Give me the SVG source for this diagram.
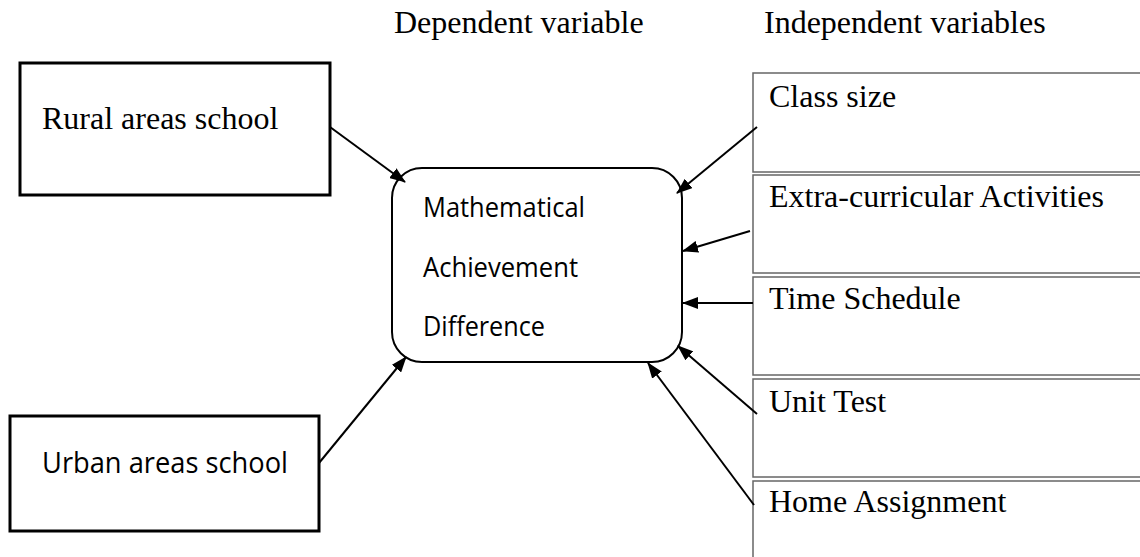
<svg xmlns="http://www.w3.org/2000/svg" width="1140" height="557" viewBox="0 0 1140 557">
<style>
.serif{font-family:"Liberation Serif","Times New Roman",serif;fill:#000}
.sans{font-family:"Open Sans","Noto Sans","Liberation Sans",sans-serif;fill:#000}
.thick{fill:#fff;stroke:#000;stroke-width:3}
.var{fill:#fff;stroke:#666;stroke-width:1.5}
.conn{stroke:#000;stroke-width:2;fill:none;marker-end:url(#ah)}
</style>
<defs>
<marker id="ah" markerWidth="16" markerHeight="12" refX="15" refY="6" orient="auto" markerUnits="userSpaceOnUse">
<path d="M0,0 L16,6 L0,12 Z" fill="#000"/>
</marker>
</defs>
<rect width="1140" height="557" fill="#fff"/>
<g id="headers">
<text class="serif" x="394" y="33" font-size="32">Dependent variable</text>
<text class="serif" x="764" y="33" font-size="32">Independent variables</text>
</g>
<g id="rural">
<rect class="thick" x="20" y="63" width="310" height="132"/>
<text class="serif" x="42" y="129" font-size="32">Rural areas school</text>
</g>
<g id="urban">
<rect class="thick" x="10" y="416" width="309" height="115"/>
<text class="sans" x="42" y="473" font-size="29" textLength="246" lengthAdjust="spacingAndGlyphs">Urban areas school</text>
</g>
<g id="outcome">
<rect x="392" y="168" width="290" height="194" rx="30" ry="30" fill="#fff" stroke="#000" stroke-width="2"/>
<text class="sans" x="423" y="217" font-size="27" textLength="162" lengthAdjust="spacingAndGlyphs">Mathematical</text>
<text class="sans" x="423" y="277" font-size="27" textLength="155" lengthAdjust="spacingAndGlyphs">Achievement</text>
<text class="sans" x="423" y="336" font-size="27" textLength="122" lengthAdjust="spacingAndGlyphs">Difference</text>
</g>
<g id="class-size">
<rect class="var" x="753" y="73" width="390" height="99"/>
<text class="serif" x="769" y="107" font-size="32">Class size</text>
</g>
<g id="extra">
<rect class="var" x="753" y="175" width="390" height="98"/>
<text class="serif" x="769" y="207" font-size="32">Extra-curricular Activities</text>
</g>
<g id="time">
<rect class="var" x="753" y="277" width="390" height="98"/>
<text class="serif" x="769" y="309" font-size="32">Time Schedule</text>
</g>
<g id="unit">
<rect class="var" x="753" y="379" width="390" height="98"/>
<text class="serif" x="769" y="412" font-size="32">Unit Test</text>
</g>
<g id="home">
<rect class="var" x="753" y="481" width="390" height="100"/>
<text class="serif" x="769" y="512" font-size="32">Home Assignment</text>
</g>
<g id="connectors">
<line class="conn" x1="330" y1="127" x2="405" y2="182"/>
<line class="conn" x1="319" y1="463" x2="406" y2="357"/>
<line class="conn" x1="757" y1="127" x2="677" y2="193"/>
<line class="conn" x1="750" y1="231" x2="683" y2="251"/>
<line class="conn" x1="753" y1="303" x2="683" y2="303"/>
<line class="conn" x1="757" y1="414" x2="678" y2="346"/>
<line class="conn" x1="754" y1="505" x2="648" y2="363"/>
</g>
</svg>
